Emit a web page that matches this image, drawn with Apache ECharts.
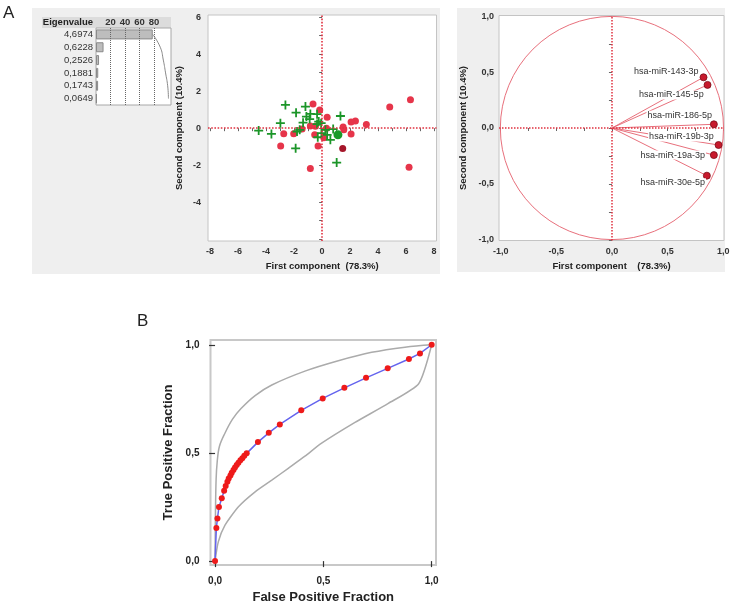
<!DOCTYPE html>
<html><head><meta charset="utf-8">
<script src="https://cdn.jsdelivr.net/npm/echarts@6/dist/echarts.min.js"></script>
<style>html,body{margin:0;padding:0;background:#fff}#c{width:735px;height:605px}</style>
</head><body><div id="c"></div>
<script>
// ---- Eigenvalue table ----
const eigenLabels = ['4,6974','0,6228','0,2526','0,1881','0,1743','0,0649'];
const eigenPercent = [78.3, 10.4, 4.2, 3.1, 2.9, 1.1];
const eigenCumulative = [78.3, 88.7, 92.9, 96.0, 98.9, 100.0];
const eigenTicks = [20, 40, 60, 80];

// ---- Score plot ----
const redX = [6.31,4.83,3.16,2.38,2.07,2.07,1.55,1.50,0.36,-0.17,-0.65,-0.84,-0.53,0.12,0.31,-2.03,-2.74,-2.96,-0.29,-0.84,6.21,-1.43,-0.48];
const redY = [1.54,1.15,0.20,0.39,0.33,-0.32,-0.09,0.07,0.59,0.99,1.31,0.12,-0.36,-0.52,0.00,-0.30,-0.30,-0.97,-0.97,-2.18,-2.11,-0.05,0.10];
const darkRedX = [1.47];
const darkRedY = [-1.10];
const plusX = [-4.53,-3.62,-2.62,-2.98,-1.86,-1.19,-1.89,-1.60,-1.79,-1.36,-1.12,-0.84,-0.89,-0.36,-0.24,-0.36,-0.07,-0.05,-0.31,0.24,0.36,0.59,0.79,1.31,1.04];
const plusY = [-0.13,-0.31,1.26,0.27,0.84,1.17,-1.09,-0.09,-0.18,0.30,0.63,0.77,0.49,0.76,0.36,0.22,0.27,-0.27,-0.49,-0.09,-0.36,-0.63,-0.05,0.66,-1.86];
const greenDotX = [1.13];
const greenDotY = [-0.36];
const scoreXLabels = [-8,-6,-4,-2,0,2,4,6,8];
const scoreYLabels = [-4,-2,0,2,4,6];

// ---- Loading plot ----
const loadNames = ['hsa-miR-143-3p','hsa-miR-145-5p','hsa-miR-186-5p','hsa-miR-19b-3p','hsa-miR-19a-3p','hsa-miR-30e-5p'];
const loadX = [0.823, 0.859, 0.916, 0.958, 0.916, 0.853];
const loadY = [0.453, 0.385, 0.033, -0.152, -0.242, -0.426];
const loadLabels = [-1, -0.5, 0, 0.5, 1];

// ---- ROC ----
const rocFPF = [0,0.006,0.011,0.018,0.031,0.042,0.049,0.057,0.063,0.071,0.077,0.085,0.092,0.100,0.108,0.117,0.126,0.135,0.146,0.198,0.248,0.299,0.398,0.497,0.597,0.697,0.797,0.895,0.946,1.0];
const rocTPF = [0,0.153,0.197,0.250,0.290,0.325,0.347,0.367,0.382,0.396,0.408,0.421,0.433,0.444,0.455,0.466,0.476,0.487,0.498,0.550,0.593,0.632,0.697,0.752,0.801,0.847,0.891,0.934,0.960,1.0];
const upperFPF = [0,0.002,0.005,0.010,0.020,0.045,0.080,0.120,0.185,0.262,0.415,0.569,0.723,0.877,1.0];
const upperTPF = [0,0.230,0.380,0.460,0.530,0.590,0.655,0.705,0.765,0.814,0.878,0.926,0.965,0.989,1.0];
const lowerFPF = [0,0.015,0.046,0.108,0.185,0.262,0.338,0.415,0.492,0.646,0.800,0.940,1.0];
const lowerTPF = [0,0.089,0.166,0.251,0.320,0.374,0.429,0.485,0.545,0.641,0.729,0.820,1.0];
const rocLabels = [0, 0.5, 1];

// ---------- helpers (style only) ----------
const FONT = 'Liberation Sans, Arial, sans-serif';
const comma1 = v => (Math.abs(v) < 1e-9 ? 0 : v).toFixed(1).replace('.', ',');
const zip = (a, b) => a.map((v, i) => [v, b[i]]);
const range = (a, b, s) => { const r = []; for (let v = a; v <= b + 1e-9; v += s) r.push(+v.toFixed(4)); return r; };
const labelPlacement = [[0,-6],[1,10],[3,-9],[0,-8],[-4,0],[3,7]];
const dotted = { type: 'dotted', color: '#e0303f', width: 1.6 };
const plusPath = 'path://M4,0H6V4H10V6H6V10H4V6H0V4H4Z';

const chart = echarts.init(document.getElementById('c'), null, { renderer: 'canvas' });

const axisTxt = { fontSize: 9, fontWeight: 'bold', color: '#333', fontFamily: FONT };

const option = {
  animation: false,
  backgroundColor: '#fff',
  textStyle: { fontFamily: FONT },
  grid: [
    { left: 96, top: 28, width: 75, height: 77, show: true, backgroundColor: '#fff', borderColor: '#a8a8a8', borderWidth: 1 },
    { left: 208, top: 15, width: 228.5, height: 226, show: true, backgroundColor: '#fff', borderColor: '#c4c4c4', borderWidth: 1 },
    { left: 499, top: 15.5, width: 225, height: 225, show: true, backgroundColor: '#fff', borderColor: '#c4c4c4', borderWidth: 1 },
    { left: 210.5, top: 340, width: 225.5, height: 225, show: true, backgroundColor: '#fff', borderColor: '#c8c8c8', borderWidth: 2 }
  ],
  xAxis: [
    { gridIndex: 0, type: 'value', min: 0, max: 103.5, position: 'top',
      axisLine: { show: false }, axisTick: { show: false }, splitLine: { show: false },
      axisLabel: { customValues: eigenTicks, margin: 1, ...axisTxt, fontSize: 9.5 } },
    { gridIndex: 1, type: 'value', min: -8.15, max: 8.17,
      axisLine: { show: false }, splitLine: { show: false },
      axisTick: { customValues: range(-8, 8, 1), length: 3, lineStyle: { color: '#666' } },
      axisLabel: { customValues: scoreXLabels, margin: 6, ...axisTxt },
      name: 'First component  (78.3%)', nameLocation: 'middle', nameGap: 20,
      nameTextStyle: { fontSize: 9.5, fontWeight: 'bold', color: '#222', fontFamily: FONT } },
    { gridIndex: 2, type: 'value', min: -1.015, max: 1.007,
      axisLine: { show: false }, splitLine: { show: false },
      axisTick: { customValues: range(-1, 1, 0.25), length: 3, lineStyle: { color: '#666' } },
      axisLabel: { customValues: loadLabels, margin: 7, formatter: v => comma1(v), ...axisTxt },
      name: 'First component    (78.3%)', nameLocation: 'middle', nameGap: 21,
      nameTextStyle: { fontSize: 9.5, fontWeight: 'bold', color: '#222', fontFamily: FONT } },
    { gridIndex: 3, type: 'value', min: -0.021, max: 1.02, offset: 4,
      axisLine: { show: false }, splitLine: { show: false },
      axisTick: { customValues: rocLabels, length: 6, lineStyle: { color: '#333', width: 1.2 } },
      axisLabel: { customValues: rocLabels, margin: 7, formatter: v => comma1(v), fontSize: 10, fontWeight: 'bold', color: '#222' },
      name: 'False Positive Fraction', nameLocation: 'middle', nameGap: 22,
      nameTextStyle: { fontSize: 13, fontWeight: 'bold', color: '#222', fontFamily: FONT } }
  ],
  yAxis: [
    { gridIndex: 0, type: 'category', data: eigenLabels, inverse: true,
      axisLine: { show: false }, axisTick: { show: false }, splitLine: { show: false },
      axisLabel: { interval: 0, fontSize: 9.5, color: '#333', margin: 3 } },
    { gridIndex: 1, type: 'value', min: -6.1, max: 6.12,
      axisLine: { show: false }, splitLine: { show: false },
      axisTick: { customValues: range(-6, 6, 1), length: 3, lineStyle: { color: '#666' } },
      axisLabel: { customValues: scoreYLabels, margin: 7, ...axisTxt },
      name: 'Second component (10.4%)', nameLocation: 'middle', nameGap: 24,
      nameTextStyle: { fontSize: 9.5, fontWeight: 'bold', color: '#222', fontFamily: FONT } },
    { gridIndex: 2, type: 'value', min: -1.005, max: 1.005,
      axisLine: { show: false }, splitLine: { show: false },
      axisTick: { customValues: range(-1, 1, 0.25), length: 3, lineStyle: { color: '#666' } },
      axisLabel: { customValues: loadLabels, margin: 5, formatter: v => comma1(v), ...axisTxt },
      name: 'Second component (10.4%)', nameLocation: 'middle', nameGap: 31,
      nameTextStyle: { fontSize: 9.5, fontWeight: 'bold', color: '#222', fontFamily: FONT } },
    { gridIndex: 3, type: 'value', min: -0.018, max: 1.022, offset: 2,
      axisLine: { show: false }, splitLine: { show: false },
      axisTick: { customValues: rocLabels, length: 6, lineStyle: { color: '#333', width: 1.2 } },
      axisLabel: { customValues: rocLabels, margin: 9, formatter: v => comma1(v), fontSize: 10, fontWeight: 'bold', color: '#222' },
      name: 'True Positive Fraction', nameLocation: 'middle', nameGap: 34,
      nameTextStyle: { fontSize: 13, fontWeight: 'bold', color: '#222', fontFamily: FONT } }
  ],
  series: [
    // eigen bars
    { type: 'bar', xAxisIndex: 0, yAxisIndex: 0, data: eigenPercent, barWidth: 10,
      itemStyle: { color: '#bdbdbd', borderColor: '#8a8a8a', borderWidth: 1 },
      markLine: { silent: true, symbol: 'none', label: { show: false },
        lineStyle: { type: 'dotted', color: '#666', width: 1 },
        data: eigenTicks.map(v => ({ xAxis: v })) } },
    { type: 'line', xAxisIndex: 0, yAxisIndex: 0, data: eigenCumulative.map((v, i) => [v, i]),
      smooth: true, showSymbol: false, lineStyle: { color: '#8a8a8a', width: 1 } },
    // score plot
    { type: 'scatter', xAxisIndex: 1, yAxisIndex: 1, data: zip(redX, redY), symbol: 'circle', symbolSize: 7,
      itemStyle: { color: '#e6354a', opacity: 1 },
      markLine: { silent: true, symbol: 'none', label: { show: false }, lineStyle: dotted,
        data: [{ xAxis: 0 }, { yAxis: 0 }] } },
    { type: 'scatter', xAxisIndex: 1, yAxisIndex: 1, data: zip(darkRedX, darkRedY), symbol: 'circle', symbolSize: 7,
      itemStyle: { color: '#a5162a', opacity: 1 } },
    { type: 'scatter', xAxisIndex: 1, yAxisIndex: 1, data: zip(plusX, plusY), symbol: plusPath, symbolSize: 9,
      itemStyle: { color: '#1b9528', opacity: 1 } },
    { type: 'scatter', xAxisIndex: 1, yAxisIndex: 1, data: zip(greenDotX, greenDotY), symbol: 'circle', symbolSize: 9,
      itemStyle: { color: '#1a9a2a', opacity: 1 } },
    // loading vectors
    ...loadX.map((x, i) => ({ type: 'line', xAxisIndex: 2, yAxisIndex: 2, data: [[0, 0], [x, loadY[i]]],
      showSymbol: false, lineStyle: { color: '#e8707c', width: 1 }, z: 3 })),
    { type: 'scatter', xAxisIndex: 2, yAxisIndex: 2, z: 5,
      data: loadX.map((x, i) => ({ value: [x, loadY[i]], name: loadNames[i],
        label: { show: true, position: 'left', distance: 0, offset: labelPlacement[i] } })),
      symbol: 'circle', symbolSize: 7,
      itemStyle: { color: '#c8192c', borderColor: '#7a0d18', borderWidth: 0.8, opacity: 1 },
      label: { formatter: p => p.name, fontSize: 9, color: '#333', backgroundColor: '#fff', padding: [0, 1] },
      markLine: { silent: true, symbol: 'none', label: { show: false }, lineStyle: { ...dotted, width: 1.5 },
        data: [{ xAxis: 0 }, { yAxis: 0 }] } },
    // ROC
    { type: 'line', xAxisIndex: 3, yAxisIndex: 3, data: zip(upperFPF, upperTPF), smooth: 0.35, showSymbol: false,
      lineStyle: { color: '#ababab', width: 1.5 } },
    { type: 'line', xAxisIndex: 3, yAxisIndex: 3, data: zip(lowerFPF, lowerTPF), smooth: 0.2, showSymbol: false,
      lineStyle: { color: '#ababab', width: 1.5 } },
    { type: 'line', xAxisIndex: 3, yAxisIndex: 3, data: zip(rocFPF, rocTPF), showSymbol: true, symbol: 'circle', symbolSize: 6,
      lineStyle: { color: '#6464ee', width: 1.5 }, itemStyle: { color: '#ee1a1a' }, z: 4 }
  ]
};
chart.setOption(option);

// graphics: panel backgrounds, header band, labels, correlation circle
const c0 = chart.convertToPixel({ gridIndex: 2 }, [0, 0]);
const cx1 = chart.convertToPixel({ gridIndex: 2 }, [1, 0]);
const cy1 = chart.convertToPixel({ gridIndex: 2 }, [0, 1]);
const r = ((cx1[0] - c0[0]) + (c0[1] - cy1[1])) / 2;

chart.setOption({
  graphic: { elements: [
    { type: 'rect', z: -100, shape: { x: 32, y: 8, width: 408, height: 266 }, style: { fill: '#efefef' } },
    { type: 'rect', z: -100, shape: { x: 457, y: 8, width: 268, height: 264 }, style: { fill: '#efefef' } },
    { type: 'rect', z: -90, shape: { x: 42, y: 17, width: 129, height: 11 }, style: { fill: '#dcdcdc' } },
    { type: 'text', z: 10, x: 93, y: 22.5, style: { text: 'Eigenvalue', font: 'bold 9.5px ' + FONT, fill: '#222', align: 'right', verticalAlign: 'middle' } },
    { type: 'text', z: 10, x: 3, y: 5, style: { text: 'A', font: '17px ' + FONT, fill: '#222' } },
    { type: 'text', z: 10, x: 137, y: 313, style: { text: 'B', font: '17px ' + FONT, fill: '#222' } },
    { type: 'circle', z: 1, shape: { cx: c0[0], cy: c0[1], r: r }, style: { fill: 'none', stroke: '#e8707c', lineWidth: 1 } }
  ] }
});
</script></body></html>
